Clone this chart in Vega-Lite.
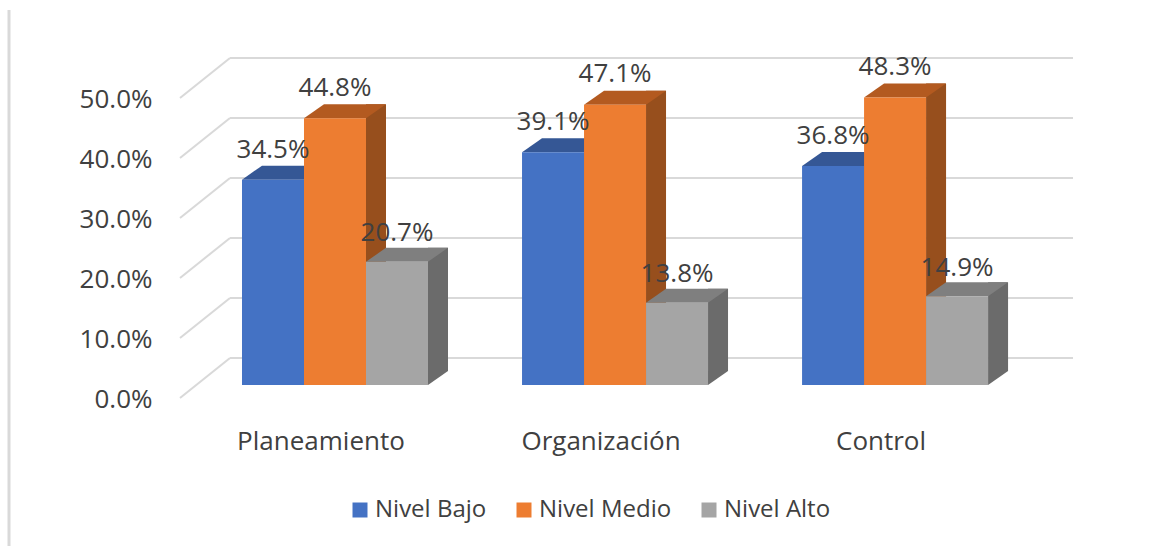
{
"$schema":"https://vega.github.io/schema/vega-lite/v6.json",
"autosize":"none","width":870,"height":300,
"padding":{"left":180,"top":85,"right":107,"bottom":161},
"background":"white",
"config":{"view":{"stroke":null},"font":"Open Sans"},
"datasets":{
"bars":[
{"dimension":"Planeamiento","nivel":"Nivel Bajo","valor":0.345},
{"dimension":"Planeamiento","nivel":"Nivel Medio","valor":0.448},
{"dimension":"Planeamiento","nivel":"Nivel Alto","valor":0.207},
{"dimension":"Organización","nivel":"Nivel Bajo","valor":0.391},
{"dimension":"Organización","nivel":"Nivel Medio","valor":0.471},
{"dimension":"Organización","nivel":"Nivel Alto","valor":0.138},
{"dimension":"Control","nivel":"Nivel Bajo","valor":0.368},
{"dimension":"Control","nivel":"Nivel Medio","valor":0.483},
{"dimension":"Control","nivel":"Nivel Alto","valor":0.149}
],
"niveles":[{"nivel":0},{"nivel":0.1},{"nivel":0.2},{"nivel":0.3},{"nivel":0.4},{"nivel":0.5}]
},
"resolve":{"scale":{"x":"independent","y":"independent","xOffset":"independent","color":"independent"},"axis":{"x":"independent","y":"independent"}},
"layer":[
{"data":{"name":"niveles"},
 "mark":{"type":"rule","color":"#d9d9d9","strokeWidth":2,"xOffset":50,"x2Offset":23,"yOffset":-27},
 "encoding":{
  "x":{"datum":0,"type":"quantitative","scale":{"domain":[0,1]},"axis":null},
  "x2":{"datum":1},
  "y":{"field":"nivel","type":"quantitative","scale":{"domain":[0,0.5]},
   "axis":{"values":[0,0.1,0.2,0.3,0.4,0.5],"format":".1%","title":null,"domain":false,"ticks":false,"grid":false,"labelFontSize":26,"labelColor":"#404040","labelPadding":28,"labelOffset":14}}
 }},
{"data":{"name":"niveles"},
 "mark":{"type":"rule","color":"#d9d9d9","strokeWidth":2,"x2Offset":50,"yOffset":13,"y2Offset":-27},
 "encoding":{
  "x":{"datum":0,"type":"quantitative","scale":{"domain":[0,1]},"axis":null},
  "x2":{"datum":0},
  "y":{"field":"nivel","type":"quantitative","scale":{"domain":[0,0.5]},"axis":null},
  "y2":{"field":"nivel"}
 }},
{"data":{"name":"niveles"},
 "transform":[{"filter":"datum.nivel==0"}],
 "mark":{"type":"rule","color":"#d9d9d9","strokeWidth":3,"xOffset":-171,"yOffset":161,"y2Offset":-75},
 "encoding":{
  "x":{"datum":0,"type":"quantitative","scale":{"domain":[0,1]},"axis":null},
  "y":{"datum":0,"type":"quantitative","scale":{"domain":[0,0.5]},"axis":null},
  "y2":{"datum":0.5}
 }},
{"data":{"name":"bars"},
 "mark":{"type":"bar","width":20,"yOffset":-14,"y2Offset":-14},
 "encoding":{
  "x":{"field":"dimension","type":"nominal","sort":null,"scale":{"type":"band","paddingInner":0.336,"paddingOuter":0.2214},"axis":null},
  "xOffset":{"field":"nivel","type":"nominal","sort":null,"scale":{"type":"band","paddingInner":0,"paddingOuter":0,"range":[41,227]}},
  "y":{"field":"valor","type":"quantitative","stack":null,"scale":{"domain":[0,0.504]},"axis":null},
  "y2":{"datum":0},
  "color":{"field":"nivel","type":"nominal","sort":null,"scale":{"domain":["Nivel Bajo","Nivel Medio","Nivel Alto"],"range":["#2c4f8c","#974f1d","#6b6b6b"]},"legend":null}
 }},
{"data":{"name":"bars"},
 "mark":{"type":"point","filled":true,"opacity":1,"size":4,"shape":"M31,0 L51,-14 L31,-14 Z"},
 "encoding":{
  "x":{"field":"dimension","type":"nominal","sort":null,"scale":{"type":"band","paddingInner":0.336,"paddingOuter":0.2214},"axis":null},
  "xOffset":{"field":"nivel","type":"nominal","sort":null,"scale":{"type":"band","paddingInner":0,"paddingOuter":0,"range":[0,186]}},
  "y":{"datum":0,"type":"quantitative","scale":{"domain":[0,0.504]},"axis":null},
  "color":{"field":"nivel","type":"nominal","sort":null,"scale":{"domain":["Nivel Bajo","Nivel Medio","Nivel Alto"],"range":["#2c4f8c","#974f1d","#6b6b6b"]},"legend":null}
 }},
{"data":{"name":"bars"},
 "mark":{"type":"point","filled":true,"opacity":1,"size":4,"shape":"M-31,0 L31,0 L51,-14 L-11,-14 Z"},
 "encoding":{
  "x":{"field":"dimension","type":"nominal","sort":null,"scale":{"type":"band","paddingInner":0.336,"paddingOuter":0.2214},"axis":null},
  "xOffset":{"field":"nivel","type":"nominal","sort":null,"scale":{"type":"band","paddingInner":0,"paddingOuter":0,"range":[0,186]}},
  "y":{"field":"valor","type":"quantitative","stack":null,"scale":{"domain":[0,0.504]},"axis":null},
  "color":{"field":"nivel","type":"nominal","sort":null,"scale":{"domain":["Nivel Bajo","Nivel Medio","Nivel Alto"],"range":["#355795","#b35a20","#7f7f7f"]},"legend":null}
 }},
{"data":{"name":"bars"},
 "mark":{"type":"bar"},
 "encoding":{
  "x":{"field":"dimension","type":"nominal","sort":null,"scale":{"type":"band","paddingInner":0.336,"paddingOuter":0.2214},
   "axis":{"title":null,"domain":false,"ticks":false,"labelAngle":0,"labelFontSize":26,"labelColor":"#404040","labelPadding":43,"labelOffset":-14}},
  "xOffset":{"field":"nivel","type":"nominal","sort":null,"scale":{"type":"band","paddingInner":0,"paddingOuter":0,"range":[0,186]}},
  "y":{"field":"valor","type":"quantitative","stack":null,"scale":{"domain":[0,0.504]},"axis":null},
  "color":{"field":"nivel","type":"nominal","sort":null,"scale":{"domain":["Nivel Bajo","Nivel Medio","Nivel Alto"],"range":["#4472c4","#ed7d31","#a5a5a5"]},
   "legend":{"title":null,"orient":"none","legendX":168,"legendY":413,"direction":"horizontal","symbolType":"square","symbolSize":225,"symbolStrokeWidth":0,"labelFontSize":24,"labelColor":"#404040","columnPadding":25,"labelOffset":3}}
 }},
{"data":{"name":"bars"},
 "mark":{"type":"text","fontSize":26,"color":"#404040","yOffset":-28,"baseline":"middle"},
 "encoding":{
  "x":{"field":"dimension","type":"nominal","sort":null,"scale":{"type":"band","paddingInner":0.336,"paddingOuter":0.2214},"axis":null},
  "xOffset":{"field":"nivel","type":"nominal","sort":null,"scale":{"type":"band","paddingInner":0,"paddingOuter":0,"range":[0,186]}},
  "y":{"field":"valor","type":"quantitative","stack":null,"scale":{"domain":[0,0.5]},"axis":null},
  "text":{"field":"valor","type":"quantitative","format":".1%"}
 }}
]
}
